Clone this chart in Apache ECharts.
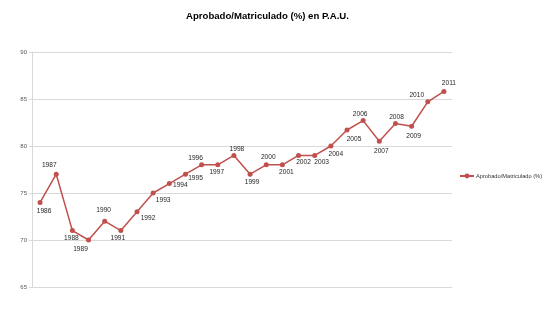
<!DOCTYPE html>
<html>
<head>
<meta charset="utf-8">
<script src="https://cdn.jsdelivr.net/npm/echarts@6/dist/echarts.min.js"></script>
<style>html,body{margin:0;padding:0;background:#fff}#c{width:550px;height:310px}</style>
</head>
<body>
<div id="c"></div>
<script>
var years = ['1986','1987','1988','1989','1990','1991','1992','1993','1994','1995','1996','1997','1998','1999','2000','2001','2002','2003','2004','2005','2006','2007','2008','2009','2010','2011'];
var values = [74, 77, 71, 70, 72, 71, 73, 75, 76, 77, 78, 78, 79, 77, 78, 78, 79, 79, 80, 81.7, 82.7, 80.5, 82.4, 82.1, 84.7, 85.8];
var labelOffsets = [[4,9],[-7,-9],[-1,8],[-8,9],[-1,-11],[-3,8],[11,6],[10,7],[11,2],[10,4],[-6,-7],[-1,7],[3,-6],[2,8],[2,-8],[4,7],[5,7],[7,7],[5,8],[7,9],[-3,-6],[2,10],[1,-6],[2,10],[-11,-7],[5,-8]];
var yTicks = {min: 65, max: 90, interval: 5};
var seriesName = 'Aprobado/Matriculado (%)';
var titleText = 'Aprobado/Matriculado (%) en P.A.U.';

var data = values.map(function(v, i){
  return {value: v, label: {offset: labelOffsets[i]}};
});

var chart = echarts.init(document.getElementById('c'), null, {renderer:'canvas'});
chart.setOption({
  animation: false,
  backgroundColor: '#fff',
  title: {
    text: titleText, left: 181, top: 6,
    textStyle: {fontFamily: 'Liberation Sans', fontWeight: 'bold', fontSize: 9.6, color: '#000'}
  },
  legend: {
    left: 454, top: 168, itemWidth: 14, itemHeight: 6, itemGap: 2,
    textStyle: {fontFamily: 'Liberation Sans', fontSize: 5.7, color: '#333', padding: [0,0,0,-3]},
    data: [seriesName]
  },
  grid: {left: 32, right: 98, top: 52, bottom: 23, containLabel: false},
  xAxis: {
    type: 'category', data: years, boundaryGap: true,
    axisLine: {show: true, lineStyle: {color: '#d9d9d9', width: 1}},
    axisTick: {show: false}, axisLabel: {show: false}, splitLine: {show: false}
  },
  yAxis: {
    type: 'value', min: yTicks.min, max: yTicks.max, interval: yTicks.interval,
    axisLine: {show: true, lineStyle: {color: '#d9d9d9'}},
    axisTick: {show: true, length: 3, lineStyle: {color: '#d9d9d9'}},
    axisLabel: {fontFamily: 'Liberation Sans', fontSize: 6, color: '#595959', margin: 5},
    splitLine: {show: true, lineStyle: {color: '#d9d9d9', width: 1}}
  },
  series: [{
    name: seriesName, type: 'line', data: data,
    symbol: 'circle', symbolSize: 5,
    lineStyle: {color: '#c0504d', width: 1.5},
    itemStyle: {color: '#c0504d'},
    label: {
      show: true, position: 'inside',
      formatter: function(p){ return years[p.dataIndex]; },
      fontFamily: 'Liberation Sans', fontSize: 6.6, color: '#262626'
    }
  }]
});
</script>
</body>
</html>
